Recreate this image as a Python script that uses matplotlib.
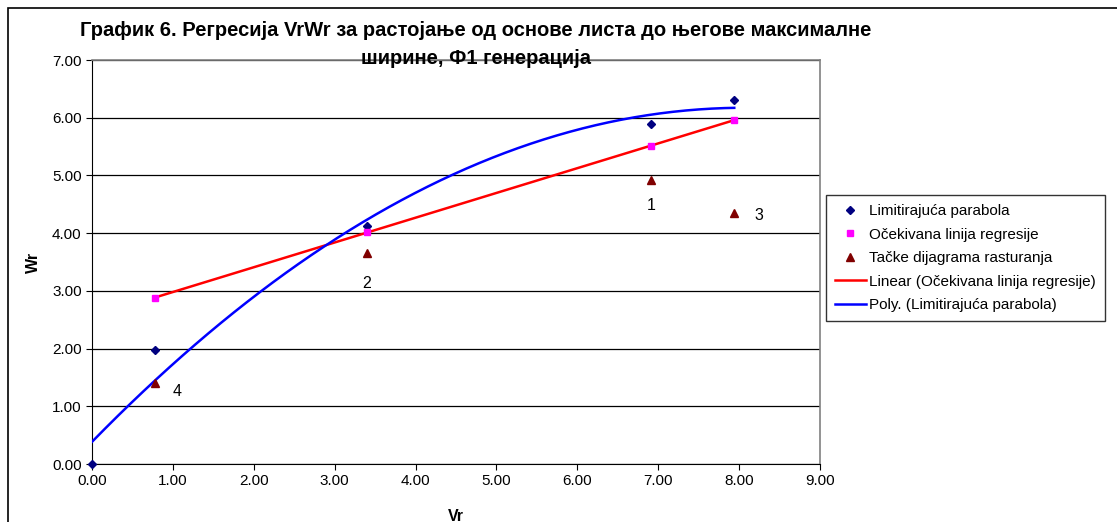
import matplotlib
matplotlib.use("Agg")
import matplotlib.pyplot as plt
import matplotlib.patches as mpatches
import numpy as np

plt.rcParams["font.family"] = ["Liberation Sans", "DejaVu Sans"]

# data
vr = [0.00, 0.78, 3.40, 6.91, 7.94]
wr_parabola = [0.00, 1.97, 4.12, 5.89, 6.31]
vr_pts = [0.78, 3.40, 6.91, 7.94]
wr_expected = [2.88, 4.02, 5.51, 5.96]
wr_scatter = [1.40, 3.66, 4.92, 4.35]
point_labels = ["4", "2", "1", "3"]

W, H = 1117, 522
fig = plt.figure(figsize=(W / 100, H / 100), dpi=100)
fig.patch.set_facecolor("white")

# outer chart border
fig.patches.append(mpatches.Rectangle((8 / W, -0.1), 1.2, 1 - 8 / H + 0.1,
                                      transform=fig.transFigure, fill=False,
                                      edgecolor="black", linewidth=1.2))

ax = fig.add_axes([92 / W, 1 - 464 / H, (820 - 92) / W, (464 - 60) / H])

# trendlines
lin = np.polyfit(vr_pts, wr_expected, 1)
xl = np.linspace(min(vr_pts), max(vr_pts), 50)
ax.plot(xl, np.polyval(lin, xl), color="#ff0000", lw=1.8, zorder=3,
        label="Linear (Očekivana linija regresije)")
par = np.polyfit(vr, wr_parabola, 2)
xp = np.linspace(min(vr), max(vr), 200)
ax.plot(xp, np.polyval(par, xp), color="#0000ff", lw=1.8, zorder=3,
        label="Poly. (Limitirajuća parabola)")

ax.plot(vr, wr_parabola, "D", color="#000080", ms=4.5, ls="none",
        zorder=4, clip_on=False, label="Limitirajuća parabola")
ax.plot(vr_pts, wr_expected, "s", color="#ff00ff", ms=5, ls="none",
        zorder=4, label="Očekivana linija regresije")
ax.plot(vr_pts, wr_scatter, "^", color="#800000", ms=6, ls="none",
        zorder=4, label="Tačke dijagrama rasturanja")

offsets = {"1": (0, -18), "2": (0, -22), "3": (18, -2), "4": (16, -6)}
for x, y, t in zip(vr_pts, wr_scatter, point_labels):
    ax.annotate(t, (x, y), xytext=offsets[t], textcoords="offset points",
                ha="center", va="center", fontsize=11.5)

ax.set_xlim(0, 9)
ax.set_ylim(0, 7)
ax.set_xticks(np.arange(0, 9.5, 1))
ax.set_yticks(np.arange(0, 7.5, 1))
ax.set_xticklabels([f"{v:.2f}" for v in np.arange(0, 9.5, 1)])
ax.set_yticklabels([f"{v:.2f}" for v in np.arange(0, 7.5, 1)])
ax.tick_params(labelsize=11, length=4, direction="out", colors="black")
ax.grid(axis="y", color="black", lw=0.9)
ax.set_axisbelow(True)
for s in ("top", "right"):
    ax.spines[s].set_color("#808080")
    ax.spines[s].set_linewidth(1.2)
for s in ("left", "bottom"):
    ax.spines[s].set_color("black")

ax.set_xlabel("Vr", fontsize=11.5, fontweight="bold", labelpad=15)
ax.set_ylabel("Wr", fontsize=11.5, fontweight="bold", labelpad=8)

fig.text(476 / W, 1 - 30 / H,
         "График 6. Регресија VrWr за растојање од основе листа до његове максималне",
         ha="center", va="center", fontsize=14.5, fontweight="bold")
fig.text(476 / W, 1 - 58 / H, "ширине, Ф1 генерација",
         ha="center", va="center", fontsize=14.5, fontweight="bold")

handles, labels = ax.get_legend_handles_labels()
order = [2, 3, 4, 0, 1]
leg = fig.legend([handles[i] for i in order], [labels[i] for i in order],
                 loc="upper left", bbox_to_anchor=(826 / W, 1 - 195 / H),
                 fontsize=11, frameon=True, fancybox=False,
                 edgecolor="black", handlelength=2.0, borderpad=0.6,
                 labelspacing=0.62, handletextpad=0.2, borderaxespad=0)
leg.get_frame().set_linewidth(1.0)

plt.savefig("out.png", dpi=100, facecolor=fig.get_facecolor())
plt.close()
